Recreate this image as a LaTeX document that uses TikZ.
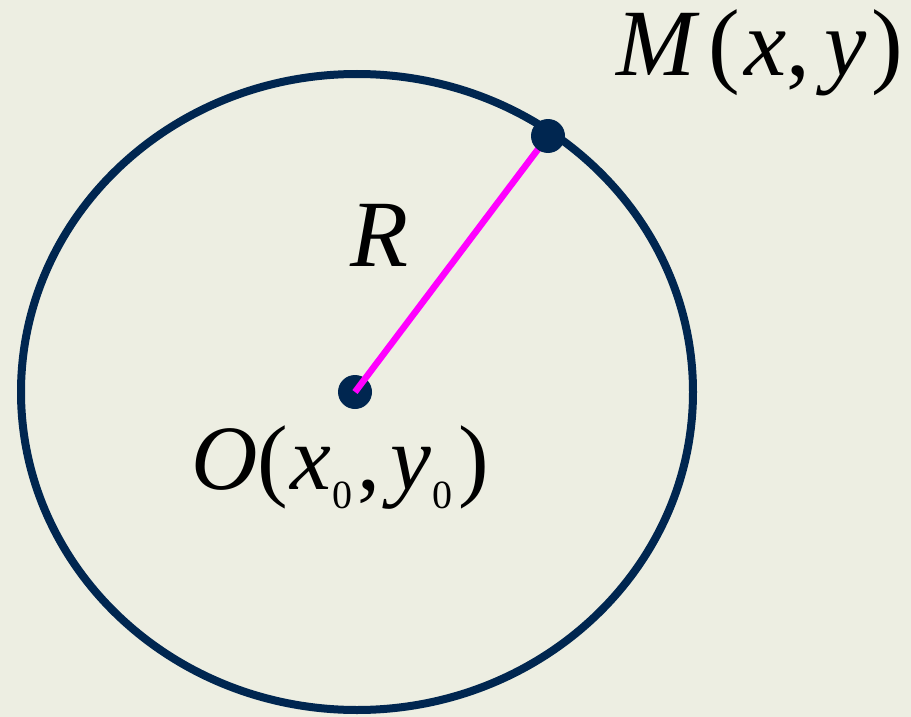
\documentclass[tikz,border=0pt]{standalone}
\usepackage{fontspec}
\setmainfont{Liberation Serif}
\definecolor{bgc}{RGB}{237,238,226}
\definecolor{navy}{RGB}{0,38,80}
\definecolor{mag}{RGB}{255,0,255}
\newcommand{\subz}{\raisebox{-19pt}{\fontsize{40}{40}\selectfont 0}}
\tikzset{
  dot/.style={circle,fill=navy,inner sep=0pt,minimum size=34pt},
  lbl/.style={inner sep=0pt,anchor=base west,font=\fontsize{95}{95}\selectfont},
}
\begin{document}
\begin{tikzpicture}[x=1pt,y=-1pt]
\fill[bgc] (0,0) rectangle (911,717);
\useasboundingbox (0,0) rectangle (911,717);
\coordinate (c) at (357,392);
\draw[navy,line width=8pt] (c) ellipse [x radius=336,y radius=318];
\node[dot] (O) at (355,392) {};
\coordinate (Mc) at (548,136);
\draw[mag,line width=6.5pt] (O.center) -- (Mc);
\node[dot] (M) at (Mc) {};
\node[lbl] (Ml) at (616,76) {\textit{M}\kern9pt(\kern4pt\textit{x},\kern14pt\textit{y}\kern5pt)};
\node[lbl] (Rl) at (350,266) {\textit{R}};
\node[lbl,font=\fontsize{92}{92}\selectfont] (Ol) at (191,489) {\textit{O}(\kern2pt\textit{x}\kern1pt\subz\kern5pt,\kern10pt\textit{y}\kern2pt\subz\kern6pt)};
\end{tikzpicture}
\end{document}
